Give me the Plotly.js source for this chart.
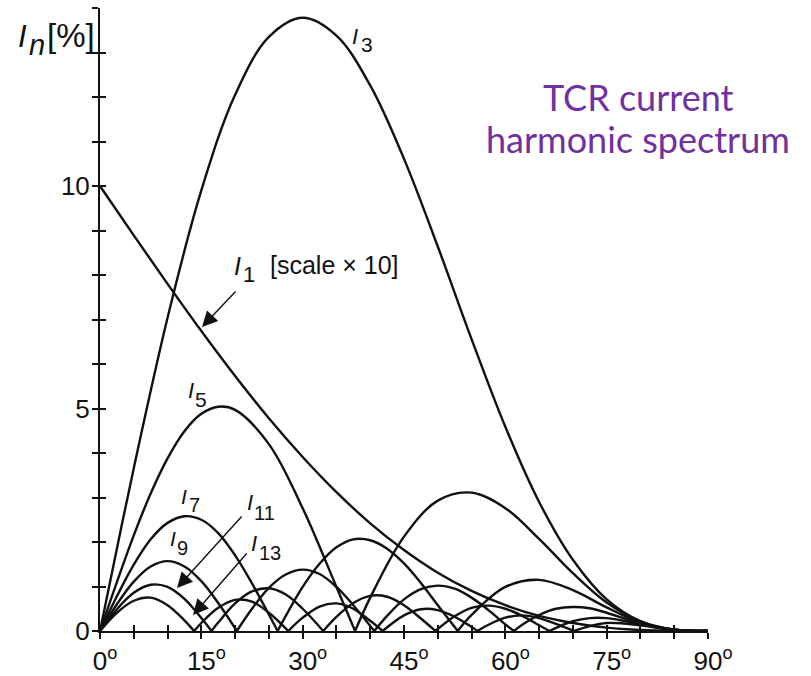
<!DOCTYPE html>
<html>
<head>
<meta charset="utf-8">
<script src="https://cdn.plot.ly/plotly-3.0.1.min.js"></script>
<style>
html,body{margin:0;padding:0;background:#ffffff;}
#chart{width:811px;height:676px;}
</style>
</head>
<body>
<div id="chart"></div>
<script>
// ---- axis ticks & labels ----
const degTicks = [0,5,10,15,20,25,30,35,40,45,50,55,60,65,70,75,80,85,90];
const degLabels = ['0','','','15','','','30','','','45','','','60','','','75','','','90'];
const pctTicks = [0,1,2,3,4,5,6,7,8,9,10,11,12,13,14];
const pctLabels = ['0','','','','','5','','','','','10','','','',''];

// ---- series values (angle in degrees, I_n in %) ----
const angI1 = [0,5,10,15,20,25,30,35,40,45,50,55,60,65,70,75,80,85,90];
const valI1 = [10,8.89,7.80,6.74,5.73,4.78,3.91,3.12,2.42,1.82,1.31,0.90,0.58,0.34,0.18,0.075,0.022,0.003,0];

const angI3 = [0,2.5,5,10,15,20,25,30,35,40,45,50,55,60,65,70,75,80,85,90];
const valI3 = [0,1.85,3.66,7.04,9.90,12.05,13.35,13.78,13.38,12.26,10.61,8.64,6.56,4.59,2.90,1.60,0.71,0.22,0.03,0];

const angI5 = [0,2.5,5,7.5,10,12.5,15,17.5,20,25,30,35,37.76,null,37.76,40,45,50,55,60,65,70,75,80,85,90];
const valI5 = [0,1.10,2.15,3.09,3.88,4.49,4.88,5.04,4.97,4.20,2.76,0.99,0,null,0,0.75,2.12,2.93,3.11,2.76,2.07,1.30,0.64,0.21,0.03,0];

const angI7 = [0,2.5,5,7.5,10,12.5,15,17.5,20,22.5,25,26.29,null,26.29,30,32.5,35,37.5,40,42.5,45,47.5,50,52.96,null,52.96,55,60,65,70,75,80,85,90];
const valI7 = [0,0.78,1.49,2.06,2.43,2.58,2.50,2.20,1.70,1.07,0.37,0,null,0,0.99,1.51,1.88,2.06,2.04,1.85,1.52,1.08,0.58,0,null,0,0.36,0.99,1.15,0.92,0.53,0.19,0.03,0];

const angI9 = [0,2.5,5,7.5,10,12.5,15,17.5,20.26,null,20.26,22.5,25,27.5,30,32.5,35,37.5,40.6,null,40.6,42.5,45,47.5,50,52.5,55,57.5,60,61.28,null,61.28,62.5,65,67.5,70,72.5,75,77.5,80,82.5,85,87.5,90];
const valI9 = [0,0.60,1.11,1.45,1.57,1.45,1.12,0.63,0,null,0,0.50,0.97,1.27,1.38,1.28,0.99,0.58,0,null,0,0.34,0.71,0.94,1.02,0.95,0.75,0.47,0.15,0,null,0,0.14,0.36,0.50,0.54,0.51,0.41,0.29,0.17,0.08,0.027,0.004,0];

const angI11 = [0,2.5,5,7.5,10,12.5,15,16.5,null,16.5,17.5,20,22.5,25,27.5,30,33.04,null,33.04,35,37.5,40,42.5,45,47.5,49.65,null,49.65,52.5,55,57.5,60,62.5,65,66.53,null,66.53,67.5,70,72.5,75,77.5,80,82.5,85,87.5,90];
const valI11 = [0,0.49,0.86,1.04,0.99,0.72,0.29,0,null,0,0.19,0.62,0.89,0.96,0.82,0.50,0,null,0,0.32,0.63,0.79,0.77,0.58,0.28,0,null,0,0.33,0.52,0.57,0.50,0.34,0.13,0,null,0,0.07,0.22,0.29,0.29,0.23,0.15,0.077,0.026,0.003,0];

const angI13 = [0,2.5,5,7.5,10,12.5,13.93,null,13.93,15,17.5,20,22.5,25,27.87,null,27.87,30,32.5,35,37.5,40,41.84,null,41.84,45,47.5,50,52.5,55,55.88,null,55.88,57.5,60,62.5,65,67.5,70.16,null,70.16,72.5,75,77.5,80,82.5,85,87.5,90];
const valI13 = [0,0.41,0.68,0.75,0.58,0.24,0,null,0,0.18,0.52,0.70,0.66,0.41,0,null,0,0.30,0.55,0.62,0.50,0.23,0,null,0,0.35,0.49,0.47,0.32,0.09,0,null,0,0.14,0.30,0.35,0.29,0.16,0,null,0,0.11,0.18,0.17,0.13,0.07,0.025,0.003,0];

const seriesList = [
  {name:'I1', x:angI1, y:valI1},
  {name:'I3', x:angI3, y:valI3},
  {name:'I5', x:angI5, y:valI5},
  {name:'I7', x:angI7, y:valI7},
  {name:'I9', x:angI9, y:valI9},
  {name:'I11', x:angI11, y:valI11},
  {name:'I13', x:angI13, y:valI13}
];

const ink = '#111111';
const traces = seriesList.map(s => ({
  type:'scatter', mode:'lines', name:s.name, x:s.x, y:s.y,
  connectgaps:false, hoverinfo:'skip', cliponaxis:false,
  line:{color:ink, width:2.4, shape:'spline', smoothing:1}
}));
// dummy trace so the overlaid tick axes are drawn
traces.push({type:'scatter', mode:'markers', x:[0], y:[0], xaxis:'x2', yaxis:'y2',
  marker:{opacity:0}, hoverinfo:'skip', showlegend:false});

const pad = '<span style="color:rgba(0,0,0,0)"><sup>o</sup></span>';
const degText = degLabels.map(l => l ? pad + l + '<sup>o</sup>' : '');

const FONT = 'Liberation Sans, Arial, sans-serif';
const tickFont = {family:FONT, size:26, color:ink};

// page-pixel -> paper helpers for placing the text labels
const PX0 = 100, PXW = 608, PY0 = 631, PYH = 623;
const toPX = px => (px - PX0) / PXW;
const toPY = py => (PY0 - py) / PYH;
const toX = px => (px - PX0) / PXW * 90;
const toY = py => (PY0 - py) / PYH * 14;

function txt(t, pxLeft, pyMid, size){
  return {text:t, x:toPX(pxLeft), y:toPY(pyMid), xref:'paper', yref:'paper', xanchor:'left', yanchor:'middle',
    showarrow:false, borderpad:0, font:{family:FONT, size:size, color:ink}};
}
// label "I" + subscript number as two pieces
function label(n, ix, iy, dx, dy, iSize, nSize){
  return [txt('<i>I</i>', ix, iy, iSize), txt(n, dx, dy, nSize)];
}
function arrow(tx, ty, ax, ay){
  return {text:'', x:toX(tx), y:toY(ty), xref:'x', yref:'y', ax:ax, ay:ay, showarrow:true,
    arrowhead:2, arrowsize:2.2, arrowwidth:1.4, arrowcolor:ink, standoff:0, startstandoff:0};
}

const annotations = [].concat(
  // y axis title  I_n [%]
  [txt('<i>I</i>', 17, 36, 31), txt('<i>n</i>', 28, 45, 29), txt('[%]', 46, 35, 33)],
  label('3', 351, 36.5, 360, 44, 22, 21),
  label('5', 187, 390, 194, 399, 22, 21),
  label('7', 180, 496.5, 187.5, 505, 21, 20),
  label('9', 169, 538.5, 176, 548, 21, 20),
  label('11', 246, 502, 253, 513, 22, 20),
  label('13', 250, 543, 257.5, 553, 22, 20),
  label('1', 233, 266, 241.5, 274.5, 25, 22),
  [txt('[scale × 10]', 269, 265, 25)],
  [arrow(202, 327, 35, -37), arrow(177, 588, 66, -73), arrow(193, 615, 55, -63)],
  [
    {text:'TCR current', x:toPX(638), y:toPY(97.4), xref:'paper', yref:'paper', xanchor:'center', yanchor:'middle',
      showarrow:false, font:{family:'Lato, Open Sans, sans-serif', size:36, color:'#7030A0'}},
    {text:'harmonic spectrum', x:toPX(638), y:toPY(139.4), xref:'paper', yref:'paper', xanchor:'center', yanchor:'middle',
      showarrow:false, font:{family:'Lato, Open Sans, sans-serif', size:36, color:'#7030A0'}}
  ]
);

const axisBase = {showgrid:false, zeroline:false, fixedrange:true, tickmode:'array',
  tickcolor:ink, tickwidth:2, ticklen:6};

const layout = {
  width:811, height:676,
  margin:{l:100, r:103, t:8, b:45, pad:0},
  paper_bgcolor:'#ffffff', plot_bgcolor:'#ffffff',
  showlegend:false,
  xaxis:Object.assign({}, axisBase, {range:[0,90], tickvals:degTicks, ticktext:degText,
    ticks:'outside', showline:true, linecolor:ink, linewidth:2, tickfont:tickFont,
    ticklabelstandoff:0}),
  yaxis:Object.assign({}, axisBase, {range:[0,14], tickvals:pctTicks, ticktext:pctLabels,
    ticks:'outside', showline:true, linecolor:ink, linewidth:2, tickfont:tickFont,
    ticklabelstandoff:-3}),
  xaxis2:Object.assign({}, axisBase, {range:[0,90], tickvals:degTicks, overlaying:'x', side:'bottom',
    ticks:'inside', showline:false, showticklabels:false}),
  yaxis2:Object.assign({}, axisBase, {range:[0,14], tickvals:pctTicks, overlaying:'y', side:'left',
    ticks:'inside', showline:false, showticklabels:false}),
  annotations:annotations
};

Plotly.newPlot('chart', traces, layout, {staticPlot:true, displayModeBar:false});
</script>
</body>
</html>
